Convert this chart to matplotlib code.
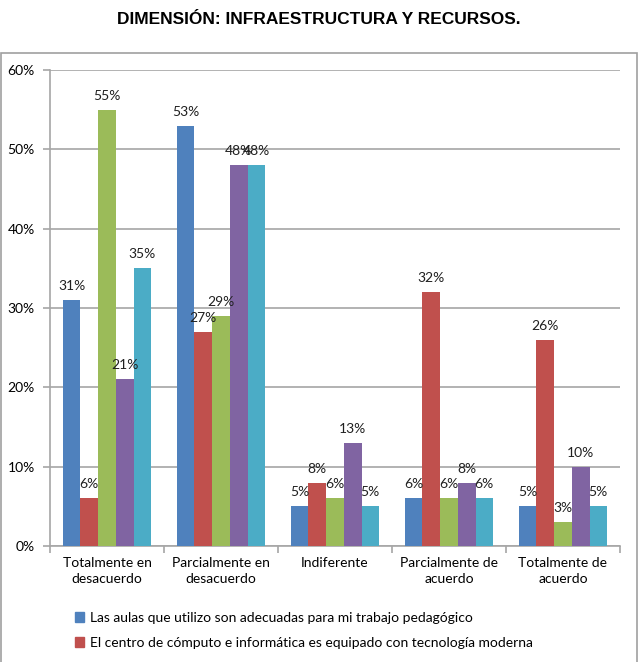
import numpy as np
import matplotlib.pyplot as plt
from matplotlib.patches import Rectangle, Patch

plt.rcParams['font.family'] = ['Lato', 'DejaVu Sans']

categories = ['Totalmente en\ndesacuerdo', 'Parcialmente en\ndesacuerdo', 'Indiferente',
              'Parcialmente de\nacuerdo', 'Totalmente de\nacuerdo']
series_names = ['Las aulas que utilizo son adecuadas para mi trabajo pedagógico',
                'El centro de cómputo e informática es equipado con tecnología moderna',
                None, None, None]
blue = [31, 53, 5, 6, 5]
red = [6, 27, 8, 32, 26]
green = [55, 29, 6, 6, 3]
purple = [21, 48, 13, 8, 10]
cyan = [35, 48, 5, 6, 5]
values = [blue, red, green, purple, cyan]
colors = ['#4F81BD', '#C0504D', '#9BBB59', '#8064A2', '#4BACC6']

W, H = 638, 662
fig = plt.figure(figsize=(W / 100, H / 100), dpi=100)

# outer chart frame (cut off at bottom)
fig.patches.append(Rectangle((1 / W, -0.05), 636 / W, 1 - 53 / H + 0.05,
                             transform=fig.transFigure, fill=False,
                             edgecolor='#A0A0A0', lw=1.2))

fig.text(0.5, 1 - 19 / H, 'DIMENSIÓN: INFRAESTRUCTURA Y RECURSOS.',
         ha='center', va='center', fontsize=12.5, fontweight='bold',
         family='Liberation Sans')

ax = fig.add_axes([50 / W, 1 - 546 / H, 570 / W, 476 / H])
x = np.arange(len(categories))
w = 0.155
for j, (vals, c) in enumerate(zip(values, colors)):
    pos = x + (j - 2) * w
    ax.bar(pos, vals, width=w, color=c, zorder=3, label=series_names[j])
    for p, v in zip(pos, vals):
        ax.text(p, v + 1.0, f'{v}%', ha='center', va='bottom', fontsize=10,
                color='#202020', zorder=4)

ax.set_xlim(-0.5, 4.5)
ax.set_ylim(0, 60)
ax.set_yticks(range(0, 61, 10))
ax.set_yticklabels([f'{t}%' for t in range(0, 61, 10)], fontsize=10)
ax.yaxis.grid(True, color='#A6A6A6', lw=1.2, zorder=0)
ax.set_xticks(x)
ax.set_xticklabels(categories, fontsize=10, linespacing=1.35)
ax.set_xticks(np.arange(-0.5, 4.6, 1), minor=True)
ax.tick_params(axis='x', which='major', length=0, pad=8)
ax.tick_params(axis='x', which='minor', length=5, color='#A6A6A6', width=1.2)
ax.tick_params(axis='y', length=5, color='#A6A6A6', width=1.2, pad=6)
for s in ['top', 'right']:
    ax.spines[s].set_visible(False)
for s in ['left', 'bottom']:
    ax.spines[s].set_color('#A6A6A6')
    ax.spines[s].set_linewidth(1.2)

handles = [Patch(color=colors[i]) for i in range(2)]
fig.legend(handles, series_names[:2], loc='upper left',
           bbox_to_anchor=(62 / W, 1 - 599 / H), frameon=False, fontsize=10,
           handlelength=0.7, handleheight=0.7, handletextpad=0.4,
           labelspacing=0.95)

fig.savefig('out.png', dpi=100)
